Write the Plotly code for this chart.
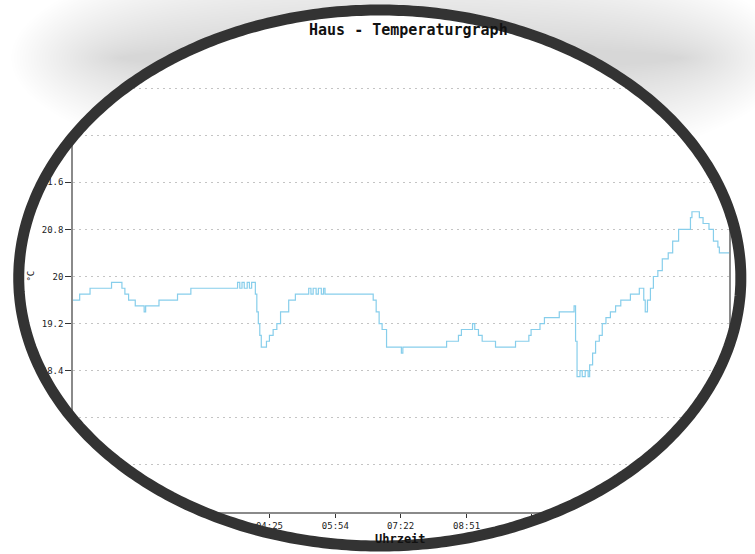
import numpy as np
import plotly.graph_objects as go

# ---------------- data ----------------
times = ["00:00", "00:09", "00:23", "00:52", "01:06", "01:10", "01:15", "01:24", "01:36", "01:38",
         "01:56", "02:21", "02:39", "03:42", "03:45", "03:48", "03:51", "03:55", "03:58", "04:01",
         "04:06", "04:08", "04:10", "04:12", "04:14", "04:21", "04:25", "04:30", "04:35", "04:40",
         "04:51", "05:00", "05:18", "05:21", "05:24", "05:28", "05:31", "05:35", "05:38", "05:40",
         "06:45", "06:49", "06:53", "06:57", "07:03", "07:23", "07:25", "08:24", "08:40", "08:44",
         "08:59", "09:02", "09:07", "09:12", "09:30", "09:57", "10:15", "10:18", "10:30", "10:36",
         "10:56", "11:16", "11:18", "11:20", "11:24", "11:27", "11:31", "11:35", "11:37", "11:41",
         "11:45", "11:50", "11:54", "11:59", "12:05", "12:12", "12:19", "12:32", "12:44", "12:50",
         "12:52", "12:55", "12:59", "13:03", "13:09", "13:15", "13:23", "13:29", "13:37", "13:53",
         "13:55", "14:05", "14:10", "14:18", "14:24", "14:30", "14:32", "14:45"]
temps = [19.6, 19.7, 19.8, 19.9, 19.8, 19.7, 19.6, 19.5, 19.4, 19.5,
         19.6, 19.7, 19.8, 19.9, 19.8, 19.9, 19.8, 19.9, 19.8, 19.9,
         19.7, 19.4, 19.2, 19.0, 18.8, 18.9, 19.0, 19.1, 19.2, 19.4,
         19.6, 19.7, 19.8, 19.7, 19.8, 19.7, 19.8, 19.7, 19.8, 19.7,
         19.6, 19.4, 19.2, 19.1, 18.8, 18.7, 18.8, 18.9, 19.0, 19.1,
         19.2, 19.1, 19.0, 18.9, 18.8, 18.9, 19.0, 19.1, 19.2, 19.3,
         19.4, 19.5, 18.9, 18.3, 18.4, 18.3, 18.4, 18.3, 18.5, 18.7,
         18.9, 19.0, 19.2, 19.3, 19.4, 19.5, 19.6, 19.7, 19.8, 19.6,
         19.4, 19.6, 19.8, 20.0, 20.1, 20.3, 20.4, 20.6, 20.8, 21.0,
         21.1, 21.0, 20.9, 20.8, 20.6, 20.5, 20.4, 20.4]
tick_labels = ["00:00", "01:28", "02:57", "04:25", "05:54", "07:22",
               "08:51", "10:19", "11:48", "13:16", "14:45"]
y_min, y_max, y_step = 16.0, 24.0, 0.8
title_text = "Haus - Temperaturgraph"
x_title = "Uhrzeit"
y_title = "°C"


def to_min(s):
    h, m = s.split(":")
    return int(h) * 60 + int(m)


x_vals = [to_min(t) for t in times]
tick_vals = [to_min(t) for t in tick_labels]

# ---------------- geometry (page pixels) ----------------
W, H = 755, 554
L, R, T, B = 73, 17, 41, 42
PW, PH = W - L - R, H - T - B


def px2paper(px, py):
    return (px - L) / PW, (H - B - py) / PH


def ell(cx, cy, rx, ry, n=480):
    phi = np.linspace(-np.pi, np.pi, n, endpoint=False)
    return cx + rx * np.sin(phi), cy - ry * np.cos(phi)


def path(xs, ys):
    pts = [px2paper(x, y) for x, y in zip(xs, ys)]
    return "M " + " L ".join(f"{x:.4f},{y:.4f}" for x, y in pts) + " Z"


def inside(E, x, y):
    cx, cy, rx, ry = E
    return ((x - cx) / rx) ** 2 + ((y - cy) / ry) ** 2 < 1


def runs(mask):
    n = len(mask)
    if mask.all():
        return [list(range(n))]
    if not mask.any():
        return []
    start = int(np.argmin(mask))
    out, cur = [], []
    for k in range(n):
        i = (start + k) % n
        if mask[i]:
            cur.append(i)
        elif cur:
            out.append(cur)
            cur = []
    if cur:
        out.append(cur)
    return out


def clip_outside(E, M):
    """Path of the part of ellipse E lying outside ellipse M."""
    ex, ey = ell(*E)
    mx, my = ell(*M)
    e_out = ~inside(M, ex, ey)
    m_in = inside(E, mx, my)
    er = runs(e_out)
    if not er:
        return None
    if e_out.all():
        if m_in.any():
            return path(ex, ey) + " " + path(mx, my)
        return path(ex, ey)
    mr = runs(m_in)
    parts = []
    for r in er:
        ax, ay = ex[r[0]], ey[r[0]]
        bx, by = ex[r[-1]], ey[r[-1]]
        best = None
        for q in mr:
            d1 = np.hypot(mx[q[0]] - bx, my[q[0]] - by) + np.hypot(mx[q[-1]] - ax, my[q[-1]] - ay)
            d2 = np.hypot(mx[q[-1]] - bx, my[q[-1]] - by) + np.hypot(mx[q[0]] - ax, my[q[0]] - ay)
            for dd, seq in ((d1, q), (d2, q[::-1])):
                if best is None or dd < best[0]:
                    best = (dd, seq)
        xs, ys = list(ex[r]), list(ey[r])
        if best is not None:
            xs += list(mx[best[1]])
            ys += list(my[best[1]])
        parts.append(path(xs, ys))
    return " ".join(parts)


MAIN = (384, 278, 366, 268)
shapes = []

# white mask outside the oval
mx, my = ell(*MAIN)
rect = "M -2,-2 L 3,-2 L 3,3 L -2,3 Z"
shapes.append(dict(type="path", xref="paper", yref="paper", layer="above",
                   path=rect + " " + path(mx, my), fillrule="evenodd",
                   fillcolor="white", line=dict(width=0)))

# soft shadow band behind the top of the oval (visible only outside it)
for d in np.linspace(0, 110, 40):
    E = (405, 58, 285 + d, 12 + d)
    p = clip_outside(E, MAIN)
    if p:
        shapes.append(dict(type="path", xref="paper", yref="paper", layer="above",
                           path=p, fillrule="evenodd", fillcolor="rgba(0,0,0,0.0055)",
                           line=dict(width=0)))

# the dark oval ring
shapes.append(dict(type="path", xref="paper", yref="paper", layer="above",
                   path=path(mx, my), line=dict(color="#333333", width=11)))

FONT = "DejaVu Sans Mono"

fig = go.Figure()
fig.add_trace(go.Scatter(x=x_vals, y=temps, mode="lines", line_shape="hv",
                         line=dict(color="#87ceeb", width=1.2), hoverinfo="skip",
                         showlegend=False))

fig.update_layout(
    width=W, height=H,
    margin=dict(l=L, r=R, t=T, b=B),
    paper_bgcolor="white", plot_bgcolor="white",
    showlegend=False,
    shapes=shapes,
    xaxis=dict(range=[0, tick_vals[-1]], tickvals=tick_vals, ticktext=tick_labels,
               showgrid=False, zeroline=False, showline=True, linecolor="#8a8a8a",
               linewidth=1.5, ticks="outside", ticklen=4, tickcolor="#333",
               tickfont=dict(family=FONT, size=9, color="#222")),
    yaxis=dict(range=[y_min, y_max], tick0=y_min, dtick=y_step,
               showgrid=True, gridcolor="#c4c4c4", griddash="2px,4px", gridwidth=1,
               zeroline=False, showline=True, mirror=True, linecolor="#8a8a8a",
               linewidth=1.5, ticks="outside", ticklen=6, tickcolor="#333",
               tickfont=dict(family=FONT, size=9, color="#222")),
    annotations=[
        dict(text="<b>" + title_text + "</b>", xref="paper", yref="paper",
             x=px2paper(310, 30)[0], y=px2paper(310, 30)[1],
             xanchor="left", yanchor="middle", showarrow=False,
             font=dict(family=FONT, size=15, color="#111")),
        dict(text="<b>" + x_title + "</b>", xref="paper", yref="paper",
             x=px2paper(405, 539)[0], y=px2paper(405, 539)[1],
             xanchor="center", yanchor="middle", showarrow=False,
             font=dict(family=FONT, size=12, color="#111")),
        dict(text=y_title, xref="paper", yref="paper", textangle=-90,
             x=px2paper(30, 276)[0], y=px2paper(30, 276)[1],
             xanchor="center", yanchor="middle", showarrow=False,
             font=dict(family=FONT, size=9, color="#111")),
    ],
)

fig.write_html("out.html", config={"displayModeBar": False},
               post_script="document.body.style.margin='0';")
